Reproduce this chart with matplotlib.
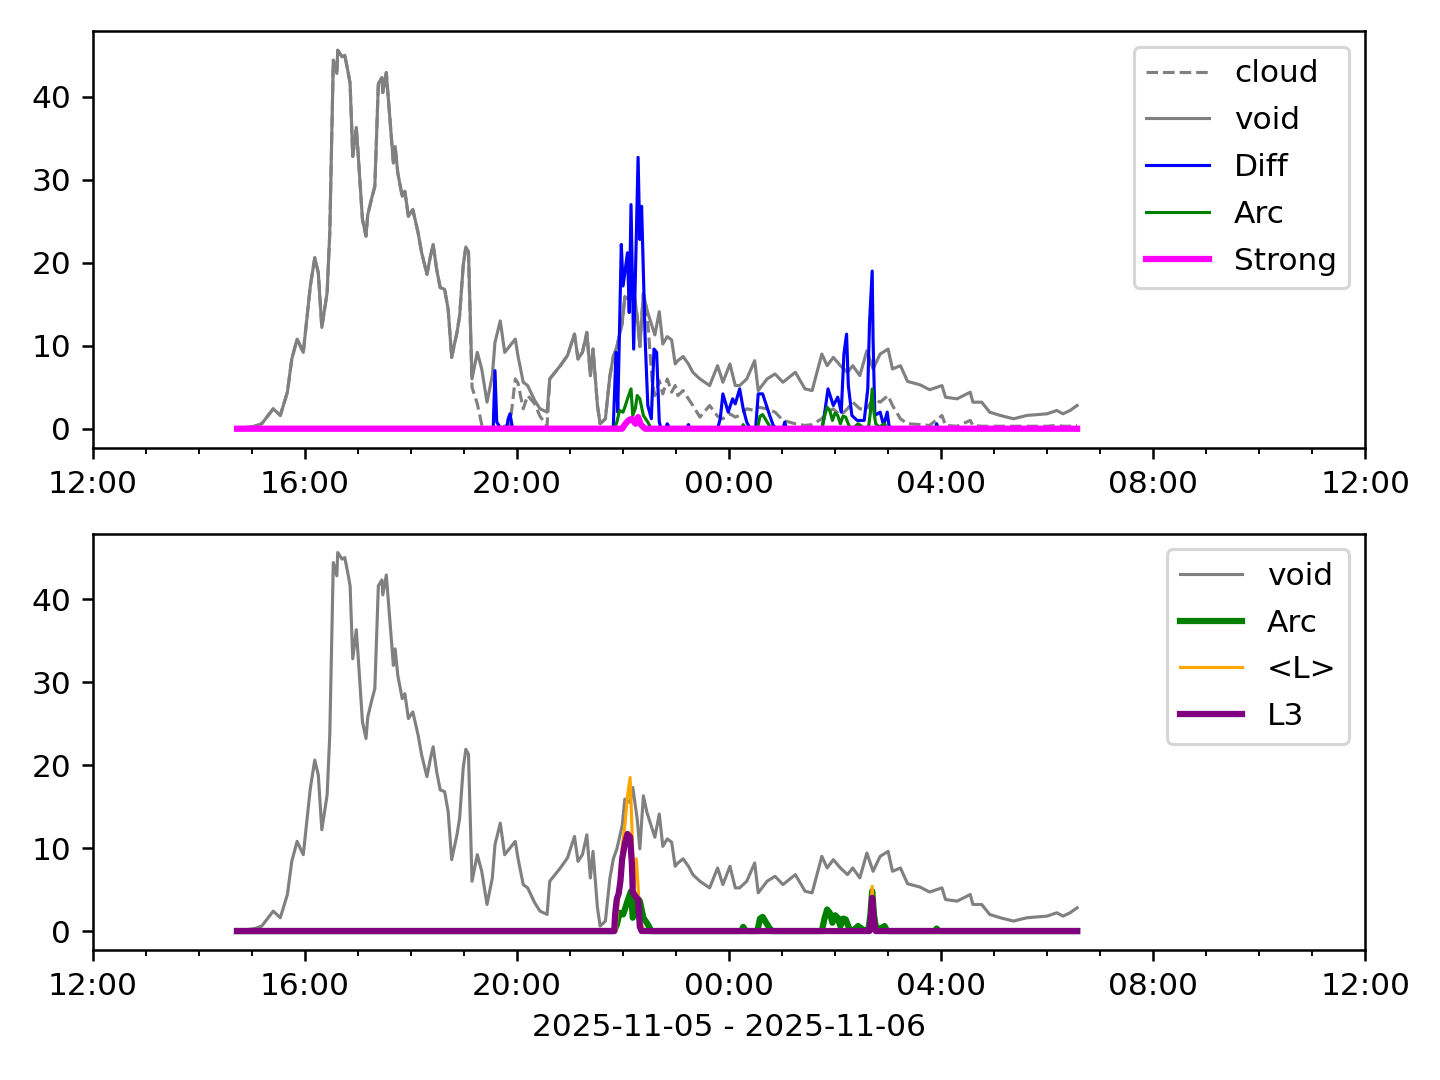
from __future__ import annotations

import pandas as pd
import matplotlib
matplotlib.use("Agg")
import matplotlib.pyplot as plt
import matplotlib.dates as mdates


DAY0 = pd.Timestamp("2025-11-05")
START = "14:43"
END = "06:34"

void_times = [
    "14:43", "15:03", "15:11", "15:24", "15:32", "15:40", "15:45", "15:51", "15:58", "16:06",
    "16:11", "16:15", "16:19", "16:25", "16:28", "16:32", "16:36", "16:37", "16:42", "16:45",
    "16:49", "16:51", "16:54", "16:58", "17:00", "17:05", "17:09", "17:11", "17:16", "17:19",
    "17:23", "17:27", "17:28", "17:32", "17:35", "17:40", "17:42", "17:45", "17:50", "17:53",
    "17:57", "18:02", "18:08", "18:12", "18:18", "18:22", "18:25", "18:29", "18:33", "18:38",
    "18:42", "18:46", "18:52", "18:55", "18:59", "19:02", "19:05", "19:09", "19:15", "19:20",
    "19:26", "19:32", "19:35", "19:41", "19:46", "19:52", "19:58", "20:01", "20:07", "20:12",
    "20:20", "20:26", "20:34", "20:37", "20:43", "20:49", "20:57", "21:02", "21:05", "21:09",
    "21:14", "21:19", "21:23", "21:26", "21:31", "21:34", "21:40", "21:45", "21:49", "21:53",
    "21:59", "22:02", "22:08", "22:11", "22:16", "22:19", "22:23", "22:27", "22:33", "22:36",
    "22:41", "22:45", "22:50", "22:55", "22:59", "23:02", "23:08", "23:14", "23:19", "23:27",
    "23:38", "23:47", "23:53", "00:01", "00:07", "00:12", "00:20", "00:29", "00:33", "00:43",
    "00:52", "01:01", "01:15", "01:26", "01:34", "01:45", "01:51", "01:58", "02:06", "02:14",
    "02:20", "02:28", "02:36", "02:43", "02:51", "03:00", "03:05", "03:14", "03:22", "03:36",
    "03:47", "04:01", "04:05", "04:18", "04:33", "04:36", "04:46", "04:55", "05:07", "05:22",
    "05:37", "06:00", "06:11", "06:18", "06:26", "06:34",
]
void_vals = [
    0.0, 0.3, 0.6, 2.4, 1.6, 4.4, 8.4, 10.8, 9.2, 17.2,
    20.6, 18.8, 12.2, 16.4, 23.6, 44.4, 42.8, 45.6, 44.8, 45.0,
    42.8, 41.6, 32.8, 36.3, 33.3, 25.2, 23.2, 25.8, 28.0, 29.2,
    41.6, 42.3, 40.5, 42.9, 38.8, 32.0, 34.0, 30.8, 28.0, 28.6,
    25.6, 26.4, 23.6, 21.2, 18.6, 20.8, 22.2, 19.2, 17.0, 16.8,
    14.4, 8.6, 11.6, 13.6, 19.6, 21.9, 21.3, 6.0, 9.2, 7.2,
    3.2, 6.4, 10.4, 13.0, 9.2, 10.0, 10.8, 8.8, 5.6, 5.2,
    3.4, 2.4, 2.0, 6.0, 6.8, 7.6, 8.8, 10.4, 11.4, 8.4,
    9.2, 11.6, 6.4, 9.6, 2.8, 0.6, 1.2, 6.3, 8.7, 9.9,
    12.7, 15.9, 15.5, 17.3, 13.5, 9.9, 16.3, 14.3, 12.3, 11.3,
    14.1, 10.2, 11.1, 10.7, 7.8, 8.2, 8.7, 7.8, 6.8, 6.0,
    5.2, 7.6, 5.6, 7.8, 5.2, 5.2, 6.0, 8.2, 4.6, 6.0,
    6.6, 5.6, 6.8, 4.8, 4.6, 9.0, 7.6, 8.6, 7.6, 6.8,
    7.6, 6.4, 9.4, 7.2, 9.0, 9.6, 7.2, 7.6, 5.7, 5.3,
    4.7, 5.2, 3.8, 3.6, 4.4, 3.2, 3.2, 2.0, 1.6, 1.2,
    1.6, 1.8, 2.2, 1.8, 2.2, 2.8,
]

# cloud follows void until ~19:05 and again 20:37-22:27
cloud_times = void_times[:57] + [
    "19:09", "19:15", "19:20", "19:26", "19:32", "19:46", "19:52", "19:58", "20:01", "20:07",
    "20:12", "20:20", "20:26", "20:34",
] + void_times[73:98] + [
    "22:33", "22:36", "22:41", "22:45", "22:50", "22:55", "22:59", "23:02", "23:08", "23:14",
    "23:19", "23:27", "23:38", "23:47", "23:53", "00:01", "00:07", "00:12", "00:20", "00:29",
    "00:33", "00:43", "00:52", "01:01", "01:15", "01:26", "01:34", "01:45", "01:51", "01:58",
    "02:06", "02:14", "02:20", "02:28", "02:36", "02:43", "02:51", "03:00", "03:05", "03:14",
    "03:22", "03:36", "03:47", "04:01", "04:05", "04:18", "04:33", "04:36", "04:46", "04:55",
    "05:07", "05:22", "05:37", "06:00", "06:11", "06:18", "06:26", "06:34",
]
cloud_vals = void_vals[:57] + [
    5.0, 3.0, 0.5, 0.0, 0.0, 0.3, 0.5, 6.0, 5.5, 2.4,
    4.0, 3.0, 1.5, 0.3,
] + void_vals[73:98] + [
    5.6, 4.0, 5.8, 4.2, 6.0, 4.4, 5.2, 4.0, 4.6, 3.6,
    2.8, 1.4, 2.8, 1.5, 1.2, 1.8, 1.4, 1.6, 2.4, 2.2,
    2.6, 2.4, 2.0, 1.0, 0.6, 0.4, 0.5, 1.2, 2.0, 2.4,
    1.6, 2.4, 3.2, 2.4, 2.4, 3.6, 3.2, 4.0, 2.8, 1.2,
    0.6, 0.5, 0.4, 1.6, 0.4, 0.3, 1.0, 0.4, 0.3, 0.3,
    0.3, 0.3, 0.3, 0.3, 0.4, 0.3, 0.3, 0.4,
]

diff_times = [
    START, "19:33", "19:35", "19:37", "19:40", "19:43", "19:48", "19:50", "19:52", "19:55",
    "21:48", "21:49", "21:52", "21:54", "21:58", "22:00", "22:05", "22:07", "22:09", "22:12",
    "22:15", "22:17", "22:19", "22:21", "22:25", "22:28", "22:32", "22:35", "22:38", "22:41",
    "22:43", "22:48", "22:50", "22:53", "23:12", "23:14", "23:16", "23:47", "23:50", "23:53",
    "23:59", "00:04", "00:07", "00:12", "00:16", "00:20", "00:24", "00:30", "00:33", "00:38",
    "00:46", "00:50", "00:54", "01:01", "01:03", "01:05", "01:45", "01:47", "01:52", "01:58",
    "02:03", "02:07", "02:10", "02:13", "02:15", "02:19", "02:25", "02:33", "02:37", "02:39",
    "02:42", "02:43", "02:45", "02:51", "02:55", "02:59", "03:01", "03:04", "03:53", "03:55",
    "03:57", END,
]
diff_vals = [
    0.0, 0.0, 7.0, 0.8, 0.3, 0.0, 0.0, 1.2, 1.8, 0.0,
    0.0, 0.4, 9.2, 2.0, 22.2, 17.2, 21.2, 14.0, 27.0, 9.6,
    23.2, 32.7, 22.8, 26.8, 10.8, 2.8, 1.2, 9.6, 9.2, 0.8,
    0.0, 0.0, 0.6, 0.0, 0.0, 0.5, 0.0, 0.0, 1.2, 4.2,
    2.0, 3.6, 3.0, 4.8, 2.4, 0.8, 0.0, 0.0, 4.2, 4.2,
    1.6, 0.4, 0.0, 0.0, 0.8, 0.0, 0.0, 1.0, 4.8, 2.8,
    3.8, 2.0, 9.0, 11.4, 5.2, 1.6, 1.0, 1.0, 4.8, 12.8,
    19.0, 10.8, 1.6, 2.0, 0.4, 2.0, 0.4, 0.0, 0.0, 0.6,
    0.0, 0.0,
]

arc_times = [
    START, "21:50", "21:53", "21:56", "22:00", "22:02", "22:05", "22:09", "22:11", "22:14",
    "22:16", "22:19", "22:23", "22:28", "22:32", "00:14", "00:16", "00:19", "00:32", "00:35",
    "00:38", "00:42", "00:46", "00:49", "01:45", "01:48", "01:51", "01:54", "01:57", "02:00",
    "02:03", "02:06", "02:09", "02:12", "02:16", "02:20", "02:26", "02:30", "02:33", "02:38",
    "02:40", "02:42", "02:44", "02:46", "02:50", "02:56", "02:59", "03:53", "03:55", "03:57",
    END,
]
arc_vals = [
    0.0, 0.0, 0.8, 2.2, 2.0, 2.6, 3.6, 4.8, 1.6, 2.5,
    4.0, 3.6, 1.6, 0.8, 0.0, 0.0, 0.5, 0.0, 0.0, 1.5,
    1.7, 1.0, 0.3, 0.0, 0.0, 1.5, 2.6, 2.2, 1.0, 1.9,
    1.6, 0.6, 1.5, 1.4, 0.3, 0.0, 0.6, 0.3, 0.0, 0.3,
    2.0, 4.8, 2.0, 0.6, 0.2, 0.6, 0.0, 0.0, 0.3, 0.0,
    0.0,
]

strong_times = [START, "21:59", "22:02", "22:06", "22:10", "22:14", "22:17", "22:20", "22:25", END]
strong_vals = [0.0, 0.0, 0.5, 1.0, 1.2, 0.6, 1.4, 0.5, 0.0, 0.0]

lmean_times = [
    START, "21:52", "21:54", "21:56", "21:59", "22:02", "22:05", "22:08", "22:10", "22:12",
    "22:15", "22:17", "22:19", "22:23", "22:26", "02:38", "02:40", "02:42", "02:44", "02:46",
    END,
]
lmean_vals = [
    0.0, 0.0, 3.0, 6.0, 10.2, 12.7, 16.3, 18.5, 12.7, 5.0,
    8.7, 5.4, 1.4, 0.3, 0.0, 0.0, 2.0, 5.4, 1.5, 0.0,
    0.0,
]

l3_times = [
    START, "21:50", "21:51", "21:53", "21:55", "21:57", "21:59", "22:02", "22:05", "22:08",
    "22:10", "22:11", "22:14", "22:17", "22:19", "22:21", "02:39", "02:41", "02:42", "02:44",
    "02:46", END,
]
l3_vals = [
    0.0, 0.0, 2.0, 3.9, 4.5, 6.0, 8.7, 10.5, 11.7, 11.3,
    8.0, 4.7, 4.2, 3.8, 0.5, 0.0, 0.0, 2.0, 4.0, 1.0,
    0.0, 0.0,
]


def to_dt(times):
    out = []
    for t in times:
        hh, mm = (int(p) for p in t.split(":"))
        day = DAY0 if hh >= 12 else DAY0 + pd.Timedelta(days=1)
        out.append(day + pd.Timedelta(hours=hh, minutes=mm))
    return out


def style_time_axis(ax):
    ax.set_xlim(DAY0 + pd.Timedelta(hours=12), DAY0 + pd.Timedelta(hours=36))
    ax.xaxis.set_major_locator(mdates.HourLocator(byhour=[0, 4, 8, 12, 16, 20]))
    ax.xaxis.set_minor_locator(mdates.HourLocator())
    ax.xaxis.set_major_formatter(mdates.DateFormatter("%H:%M"))


fig, (ax1, ax2) = plt.subplots(2, 1, figsize=(6.4, 4.8), dpi=225)

ax1.plot(to_dt(cloud_times), cloud_vals, color="gray", ls="--", lw=1, label="cloud")
ax1.plot(to_dt(void_times), void_vals, color="gray", lw=1, label="void")
ax1.plot(to_dt(diff_times), diff_vals, color="blue", lw=1, label="Diff")
ax1.plot(to_dt(arc_times), arc_vals, color="green", lw=1, label="Arc")
ax1.plot(to_dt(strong_times), strong_vals, color="magenta", lw=2, label="Strong")
style_time_axis(ax1)
ax1.legend(loc="upper right", labelspacing=0.57)

ax2.plot(to_dt(void_times), void_vals, color="gray", lw=1, label="void")
ax2.plot(to_dt(arc_times), arc_vals, color="green", lw=2, label="Arc")
ax2.plot(to_dt(lmean_times), lmean_vals, color="orange", lw=1, label="<L>")
ax2.plot(to_dt(l3_times), l3_vals, color="purple", lw=2, label="L3")
style_time_axis(ax2)
ax2.legend(loc="upper right", labelspacing=0.57)
ax2.set_xlabel("2025-11-05 - 2025-11-06")

fig.subplots_adjust(left=0.0646, right=0.948, top=0.971, bottom=0.1204, hspace=0.2065)
fig.savefig("out.png", dpi=225)
